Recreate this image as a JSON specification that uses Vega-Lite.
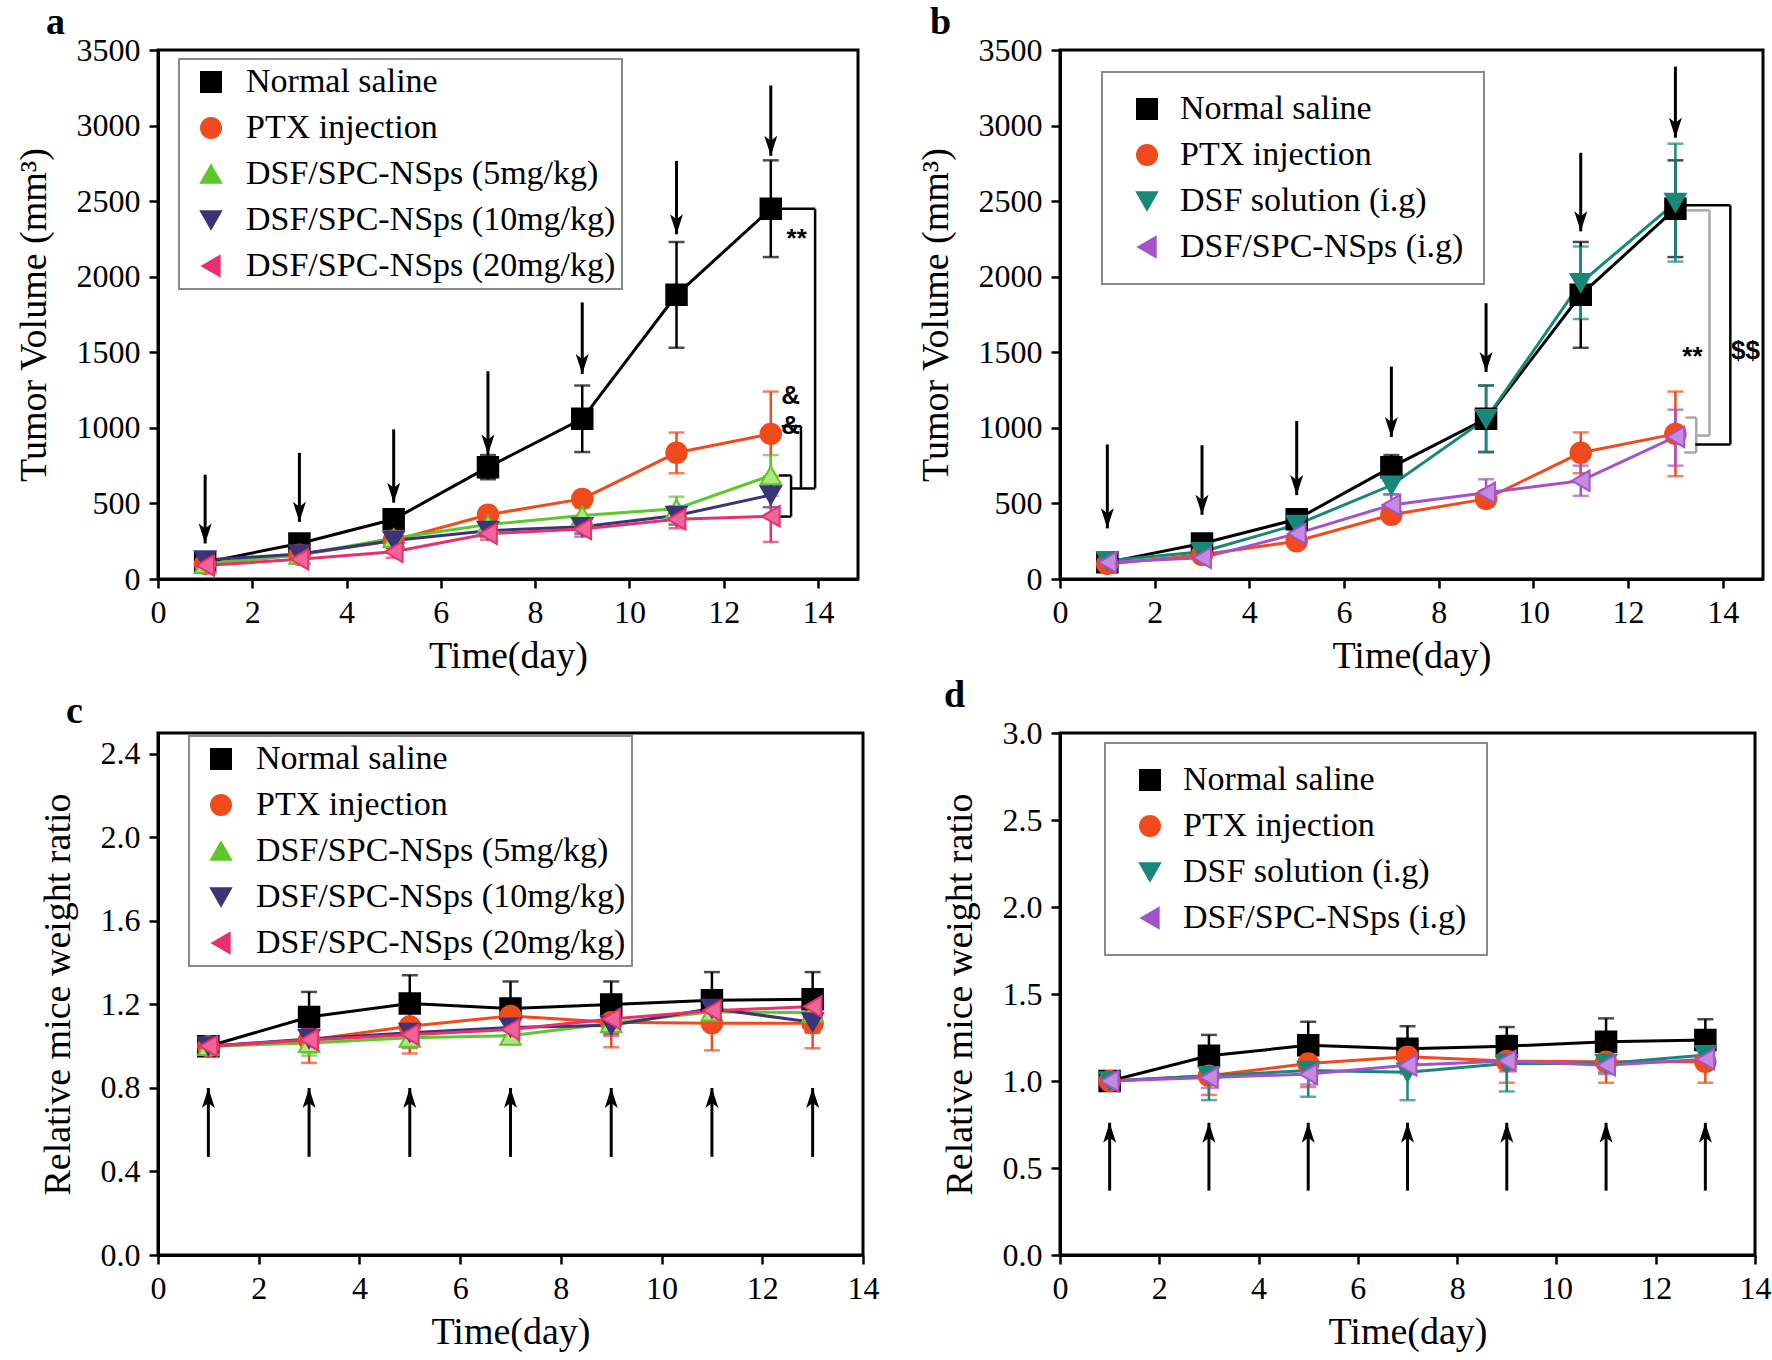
{
"$schema": "https://vega.github.io/schema/vega-lite/v6.json",
"background": "white",
"padding": {"left": 13, "top": 2, "right": 0, "bottom": 0},
"columns": 2,
"spacing": {"row": -2, "column": 34},
"resolve": {"scale": {"color": "independent", "fill": "independent", "stroke": "independent", "shape": "independent"}, "legend": {"color": "independent", "fill": "independent", "stroke": "independent", "shape": "independent"}},
"config": {
  "view": {"stroke": "black", "strokeWidth": 3},
  "font": "Liberation Serif",
  "axis": {"domainColor": "black", "domainWidth": 3, "tickColor": "black", "tickWidth": 2.5, "tickSize": 9, "labelFont": "Liberation Serif", "labelFontSize": 32, "labelColor": "black", "titleFont": "Liberation Serif", "titleFontSize": 38, "titleFontWeight": "normal", "titleColor": "black", "grid": false, "labelOverlap": false, "labelFlush": false},
  "axisX": {"labelPadding": 9, "titlePadding": 9},
  "axisY": {"labelPadding": 9, "titlePadding": 23},
  "legend": {"labelFont": "Liberation Serif", "labelFontSize": 34, "labelColor": "black", "labelLimit": 700},
  "title": {"font": "Liberation Serif", "fontSize": 38, "fontWeight": "bold", "color": "black", "anchor": "start", "frame": "bounds"}
},
"datasets": {
  "a": [
    {"s":"Normal saline","day":1,"v":110,"lo":90,"hi":130},{"s":"Normal saline","day":3,"v":235,"lo":205,"hi":265},{"s":"Normal saline","day":5,"v":395,"lo":355,"hi":435},{"s":"Normal saline","day":7,"v":740,"lo":660,"hi":820},{"s":"Normal saline","day":9,"v":1060,"lo":840,"hi":1280},{"s":"Normal saline","day":11,"v":1880,"lo":1530,"hi":2230},{"s":"Normal saline","day":13,"v":2450,"lo":2130,"hi":2770},
    {"s":"PTX injection","day":1,"v":100,"lo":85,"hi":115},{"s":"PTX injection","day":3,"v":160,"lo":135,"hi":185},{"s":"PTX injection","day":5,"v":255,"lo":225,"hi":285},{"s":"PTX injection","day":7,"v":425,"lo":385,"hi":465},{"s":"PTX injection","day":9,"v":530,"lo":480,"hi":580},{"s":"PTX injection","day":11,"v":835,"lo":700,"hi":970},{"s":"PTX injection","day":13,"v":960,"lo":680,"hi":1240},
    {"s":"DSF/SPC-NSps (5mg/kg)","day":1,"v":100,"lo":85,"hi":115},{"s":"DSF/SPC-NSps (5mg/kg)","day":3,"v":160,"lo":135,"hi":185},{"s":"DSF/SPC-NSps (5mg/kg)","day":5,"v":270,"lo":240,"hi":300},{"s":"DSF/SPC-NSps (5mg/kg)","day":7,"v":360,"lo":320,"hi":400},{"s":"DSF/SPC-NSps (5mg/kg)","day":9,"v":420,"lo":370,"hi":470},{"s":"DSF/SPC-NSps (5mg/kg)","day":11,"v":465,"lo":385,"hi":545},{"s":"DSF/SPC-NSps (5mg/kg)","day":13,"v":685,"lo":550,"hi":820},
    {"s":"DSF/SPC-NSps (10mg/kg)","day":1,"v":125,"lo":105,"hi":145},{"s":"DSF/SPC-NSps (10mg/kg)","day":3,"v":165,"lo":140,"hi":190},{"s":"DSF/SPC-NSps (10mg/kg)","day":5,"v":255,"lo":225,"hi":285},{"s":"DSF/SPC-NSps (10mg/kg)","day":7,"v":320,"lo":280,"hi":360},{"s":"DSF/SPC-NSps (10mg/kg)","day":9,"v":345,"lo":300,"hi":390},{"s":"DSF/SPC-NSps (10mg/kg)","day":11,"v":420,"lo":360,"hi":480},{"s":"DSF/SPC-NSps (10mg/kg)","day":13,"v":555,"lo":475,"hi":635},
    {"s":"DSF/SPC-NSps (20mg/kg)","day":1,"v":90,"lo":65,"hi":115},{"s":"DSF/SPC-NSps (20mg/kg)","day":3,"v":130,"lo":100,"hi":160},{"s":"DSF/SPC-NSps (20mg/kg)","day":5,"v":180,"lo":140,"hi":220},{"s":"DSF/SPC-NSps (20mg/kg)","day":7,"v":300,"lo":260,"hi":340},{"s":"DSF/SPC-NSps (20mg/kg)","day":9,"v":330,"lo":280,"hi":380},{"s":"DSF/SPC-NSps (20mg/kg)","day":11,"v":395,"lo":335,"hi":455},{"s":"DSF/SPC-NSps (20mg/kg)","day":13,"v":415,"lo":245,"hi":585}
  ],
  "b": [
    {"s":"Normal saline","day":1,"v":110,"lo":90,"hi":130},{"s":"Normal saline","day":3,"v":235,"lo":205,"hi":265},{"s":"Normal saline","day":5,"v":395,"lo":355,"hi":435},{"s":"Normal saline","day":7,"v":740,"lo":660,"hi":820},{"s":"Normal saline","day":9,"v":1060,"lo":840,"hi":1280},{"s":"Normal saline","day":11,"v":1880,"lo":1530,"hi":2230},{"s":"Normal saline","day":13,"v":2450,"lo":2130,"hi":2770},
    {"s":"PTX injection","day":1,"v":100,"lo":85,"hi":115},{"s":"PTX injection","day":3,"v":160,"lo":135,"hi":185},{"s":"PTX injection","day":5,"v":250,"lo":220,"hi":280},{"s":"PTX injection","day":7,"v":425,"lo":385,"hi":465},{"s":"PTX injection","day":9,"v":530,"lo":480,"hi":580},{"s":"PTX injection","day":11,"v":835,"lo":700,"hi":970},{"s":"PTX injection","day":13,"v":960,"lo":680,"hi":1240},
    {"s":"DSF solution (i.g)","day":1,"v":120,"lo":100,"hi":140},{"s":"DSF solution (i.g)","day":3,"v":180,"lo":150,"hi":210},{"s":"DSF solution (i.g)","day":5,"v":360,"lo":320,"hi":400},{"s":"DSF solution (i.g)","day":7,"v":620,"lo":560,"hi":680},{"s":"DSF solution (i.g)","day":9,"v":1060,"lo":840,"hi":1280},{"s":"DSF solution (i.g)","day":11,"v":1960,"lo":1720,"hi":2200},{"s":"DSF solution (i.g)","day":13,"v":2490,"lo":2100,"hi":2880},
    {"s":"DSF/SPC-NSps (i.g)","day":1,"v":110,"lo":90,"hi":130},{"s":"DSF/SPC-NSps (i.g)","day":3,"v":140,"lo":110,"hi":170},{"s":"DSF/SPC-NSps (i.g)","day":5,"v":300,"lo":260,"hi":340},{"s":"DSF/SPC-NSps (i.g)","day":7,"v":490,"lo":420,"hi":560},{"s":"DSF/SPC-NSps (i.g)","day":9,"v":570,"lo":480,"hi":660},{"s":"DSF/SPC-NSps (i.g)","day":11,"v":650,"lo":550,"hi":750},{"s":"DSF/SPC-NSps (i.g)","day":13,"v":940,"lo":750,"hi":1120}
  ],
  "c": [
    {"s":"Normal saline","day":1,"v":1.0,"lo":0.98,"hi":1.02},{"s":"Normal saline","day":3,"v":1.14,"lo":1.02,"hi":1.26},{"s":"Normal saline","day":5,"v":1.205,"lo":1.07,"hi":1.34},{"s":"Normal saline","day":7,"v":1.18,"lo":1.05,"hi":1.31},{"s":"Normal saline","day":9,"v":1.2,"lo":1.09,"hi":1.31},{"s":"Normal saline","day":11,"v":1.22,"lo":1.085,"hi":1.355},{"s":"Normal saline","day":13,"v":1.225,"lo":1.095,"hi":1.355},
    {"s":"PTX injection","day":1,"v":1.0,"lo":0.98,"hi":1.02},{"s":"PTX injection","day":3,"v":1.03,"lo":0.92,"hi":1.14},{"s":"PTX injection","day":5,"v":1.095,"lo":0.965,"hi":1.225},{"s":"PTX injection","day":7,"v":1.145,"lo":1.085,"hi":1.205},{"s":"PTX injection","day":9,"v":1.115,"lo":0.995,"hi":1.235},{"s":"PTX injection","day":11,"v":1.11,"lo":0.98,"hi":1.24},{"s":"PTX injection","day":13,"v":1.11,"lo":0.99,"hi":1.23},
    {"s":"DSF/SPC-NSps (5mg/kg)","day":1,"v":1.0,"lo":0.98,"hi":1.02},{"s":"DSF/SPC-NSps (5mg/kg)","day":3,"v":1.015,"lo":0.955,"hi":1.075},{"s":"DSF/SPC-NSps (5mg/kg)","day":5,"v":1.04,"lo":0.99,"hi":1.09},{"s":"DSF/SPC-NSps (5mg/kg)","day":7,"v":1.05,"lo":1.01,"hi":1.09},{"s":"DSF/SPC-NSps (5mg/kg)","day":9,"v":1.11,"lo":1.07,"hi":1.15},{"s":"DSF/SPC-NSps (5mg/kg)","day":11,"v":1.165,"lo":1.105,"hi":1.225},{"s":"DSF/SPC-NSps (5mg/kg)","day":13,"v":1.16,"lo":1.11,"hi":1.21},
    {"s":"DSF/SPC-NSps (10mg/kg)","day":1,"v":1.0,"lo":0.98,"hi":1.02},{"s":"DSF/SPC-NSps (10mg/kg)","day":3,"v":1.035,"lo":0.985,"hi":1.085},{"s":"DSF/SPC-NSps (10mg/kg)","day":5,"v":1.065,"lo":1.015,"hi":1.115},{"s":"DSF/SPC-NSps (10mg/kg)","day":7,"v":1.09,"lo":1.05,"hi":1.13},{"s":"DSF/SPC-NSps (10mg/kg)","day":9,"v":1.1,"lo":1.06,"hi":1.14},{"s":"DSF/SPC-NSps (10mg/kg)","day":11,"v":1.18,"lo":1.13,"hi":1.23},{"s":"DSF/SPC-NSps (10mg/kg)","day":13,"v":1.115,"lo":1.065,"hi":1.165},
    {"s":"DSF/SPC-NSps (20mg/kg)","day":1,"v":1.0,"lo":0.98,"hi":1.02},{"s":"DSF/SPC-NSps (20mg/kg)","day":3,"v":1.03,"lo":0.97,"hi":1.09},{"s":"DSF/SPC-NSps (20mg/kg)","day":5,"v":1.055,"lo":0.995,"hi":1.115},{"s":"DSF/SPC-NSps (20mg/kg)","day":7,"v":1.08,"lo":1.03,"hi":1.13},{"s":"DSF/SPC-NSps (20mg/kg)","day":9,"v":1.13,"lo":1.05,"hi":1.21},{"s":"DSF/SPC-NSps (20mg/kg)","day":11,"v":1.17,"lo":1.11,"hi":1.23},{"s":"DSF/SPC-NSps (20mg/kg)","day":13,"v":1.19,"lo":1.15,"hi":1.23}
  ],
  "d": [
    {"s":"Normal saline","day":1,"v":1.0,"lo":0.98,"hi":1.02},{"s":"Normal saline","day":3,"v":1.145,"lo":1.025,"hi":1.265},{"s":"Normal saline","day":5,"v":1.205,"lo":1.07,"hi":1.34},{"s":"Normal saline","day":7,"v":1.185,"lo":1.055,"hi":1.315},{"s":"Normal saline","day":9,"v":1.2,"lo":1.09,"hi":1.31},{"s":"Normal saline","day":11,"v":1.225,"lo":1.09,"hi":1.36},{"s":"Normal saline","day":13,"v":1.235,"lo":1.115,"hi":1.355},
    {"s":"PTX injection","day":1,"v":1.0,"lo":0.98,"hi":1.02},{"s":"PTX injection","day":3,"v":1.03,"lo":0.92,"hi":1.14},{"s":"PTX injection","day":5,"v":1.1,"lo":0.965,"hi":1.235},{"s":"PTX injection","day":7,"v":1.14,"lo":1.07,"hi":1.21},{"s":"PTX injection","day":9,"v":1.115,"lo":0.99,"hi":1.24},{"s":"PTX injection","day":11,"v":1.11,"lo":0.99,"hi":1.23},{"s":"PTX injection","day":13,"v":1.11,"lo":0.99,"hi":1.23},
    {"s":"DSF solution (i.g)","day":1,"v":1.0,"lo":0.98,"hi":1.02},{"s":"DSF solution (i.g)","day":3,"v":1.03,"lo":0.89,"hi":1.17},{"s":"DSF solution (i.g)","day":5,"v":1.06,"lo":0.91,"hi":1.21},{"s":"DSF solution (i.g)","day":7,"v":1.05,"lo":0.89,"hi":1.21},{"s":"DSF solution (i.g)","day":9,"v":1.1,"lo":0.94,"hi":1.26},{"s":"DSF solution (i.g)","day":11,"v":1.1,"lo":1.05,"hi":1.15},{"s":"DSF solution (i.g)","day":13,"v":1.15,"lo":1.08,"hi":1.22},
    {"s":"DSF/SPC-NSps (i.g)","day":1,"v":1.0,"lo":0.98,"hi":1.02},{"s":"DSF/SPC-NSps (i.g)","day":3,"v":1.02,"lo":0.96,"hi":1.08},{"s":"DSF/SPC-NSps (i.g)","day":5,"v":1.04,"lo":0.98,"hi":1.1},{"s":"DSF/SPC-NSps (i.g)","day":7,"v":1.09,"lo":1.04,"hi":1.14},{"s":"DSF/SPC-NSps (i.g)","day":9,"v":1.115,"lo":1.055,"hi":1.175},{"s":"DSF/SPC-NSps (i.g)","day":11,"v":1.09,"lo":1.04,"hi":1.14},{"s":"DSF/SPC-NSps (i.g)","day":13,"v":1.125,"lo":1.075,"hi":1.175}
  ],
  "arrA": [{"day":1,"from":690,"tip":235},{"day":3,"from":835,"tip":378},{"day":5,"from":990,"tip":505},{"day":7,"from":1375,"tip":823},{"day":9,"from":1830,"tip":1357},{"day":11,"from":2766,"tip":2281},{"day":13,"from":3265,"tip":2800}],
  "arrB": [{"day":1,"from":890,"tip":335},{"day":3,"from":885,"tip":425},{"day":5,"from":1045,"tip":555},{"day":7,"from":1405,"tip":940},{"day":9,"from":1825,"tip":1370},{"day":11,"from":2820,"tip":2300},{"day":13,"from":3390,"tip":2920}],
  "arrC": [{"day":1,"from":0.47,"tip":0.8},{"day":3,"from":0.47,"tip":0.8},{"day":5,"from":0.47,"tip":0.8},{"day":7,"from":0.47,"tip":0.8},{"day":9,"from":0.47,"tip":0.8},{"day":11,"from":0.47,"tip":0.8},{"day":13,"from":0.47,"tip":0.8}],
  "arrD": [{"day":1,"from":0.37,"tip":0.76},{"day":3,"from":0.37,"tip":0.76},{"day":5,"from":0.37,"tip":0.76},{"day":7,"from":0.37,"tip":0.76},{"day":9,"from":0.37,"tip":0.76},{"day":11,"from":0.37,"tip":0.76},{"day":13,"from":0.37,"tip":0.76}],
  "brA": [{"x1":13.15,"x2":13.94,"y1":2449,"y2":2449},{"x1":13.94,"x2":13.94,"y1":2449,"y2":599},{"x1":13.43,"x2":13.94,"y1":599,"y2":599},{"x1":13.23,"x2":13.64,"y1":1011,"y2":1011},{"x1":13.64,"x2":13.64,"y1":1011,"y2":599},{"x1":13.17,"x2":13.43,"y1":685,"y2":685},{"x1":13.43,"x2":13.43,"y1":685,"y2":413},{"x1":13.17,"x2":13.43,"y1":413,"y2":413}],
  "brB": [{"cmp":"$$","x1":13.21,"x2":14.16,"y1":2472,"y2":2472},{"cmp":"$$","x1":14.16,"x2":14.16,"y1":2472,"y2":890},{"cmp":"$$","x1":13.42,"x2":14.16,"y1":890,"y2":890},{"cmp":"**","x1":13.25,"x2":13.72,"y1":2439,"y2":2439},{"cmp":"**","x1":13.72,"x2":13.72,"y1":2439,"y2":949},{"cmp":"**","x1":13.46,"x2":13.72,"y1":949,"y2":949},{"cmp":"**","x1":13.21,"x2":13.44,"y1":1068,"y2":1068},{"cmp":"**","x1":13.44,"x2":13.44,"y1":1068,"y2":837},{"cmp":"**","x1":13.19,"x2":13.44,"y1":837,"y2":837}],
  "txtA": [{"x":13.55,"y":2290,"t":"**"},{"x":13.42,"y":1250,"t":"&"},{"x":13.42,"y":1050,"t":"&"}],
  "txtB": [{"x":13.36,"y":1510,"t":"**"},{"x":14.48,"y":1548,"t":"$$"}]
},
"concat": [
{
  "width": 700, "height": 529,
  "title": {"text": "a", "dx": 31, "offset": -8},
  "layer": [
    {"data": {"name": "arrA"}, "mark": {"type": "rule", "color": "black", "strokeWidth": 3}, "encoding": {"x": {"field": "day", "type": "quantitative"}, "y": {"field": "from", "type": "quantitative"}, "y2": {"field": "tip"}}},
    {"data": {"name": "arrA"}, "mark": {"type": "point", "shape": "M0,0L-0.65,-2L0,-1.5L0.65,-2Z", "filled": true, "color": "black", "size": 400, "opacity": 1}, "encoding": {"x": {"field": "day", "type": "quantitative"}, "y": {"field": "tip", "type": "quantitative"}}},
    {"data": {"name": "brA"}, "mark": {"type": "rule", "color": "black", "strokeWidth": 2.5}, "encoding": {"x": {"field": "x1", "type": "quantitative"}, "x2": {"field": "x2"}, "y": {"field": "y1", "type": "quantitative"}, "y2": {"field": "y2"}}},
    {"data": {"name": "txtA"}, "mark": {"type": "text", "font": "Liberation Sans", "fontWeight": "bold", "fontSize": 26, "color": "black", "dy": 6}, "encoding": {"x": {"field": "x", "type": "quantitative"}, "y": {"field": "y", "type": "quantitative"}, "text": {"field": "t"}}},
    {"data": {"name": "a"}, "mark": {"type": "errorbar", "ticks": {"size": 16, "thickness": 2.5}, "thickness": 2.5}, "encoding": {"x": {"field": "day", "type": "quantitative", "title": "Time(day)"}, "y": {"field": "lo", "type": "quantitative", "title": "Tumor Volume (mm³)"}, "y2": {"field": "hi"}, "color": {"field": "s", "type": "nominal", "scale": {"domain": ["Normal saline","PTX injection","DSF/SPC-NSps (5mg/kg)","DSF/SPC-NSps (10mg/kg)","DSF/SPC-NSps (20mg/kg)"], "range": ["#000000","#f04a1d","#5cc82a","#3c3478","#e8306e"]}, "legend": {"orient": "none", "legendX": 21, "legendY": 9, "title": null, "symbolSize": 400, "symbolStrokeWidth": 2, "symbolOffset": 9, "labelOffset": 18, "rowPadding": 12, "padding": 6, "strokeColor": "#8a8a8a", "fillColor": "white", "encode": {"legend": {"update": {"strokeWidth": {"value": 2}}}}}}}},
    {"data": {"name": "a"}, "mark": {"type": "line", "strokeWidth": 3}, "encoding": {"x": {"field": "day", "type": "quantitative"}, "y": {"field": "v", "type": "quantitative"}, "stroke": {"field": "s", "type": "nominal", "scale": {"domain": ["Normal saline","PTX injection","DSF/SPC-NSps (5mg/kg)","DSF/SPC-NSps (10mg/kg)","DSF/SPC-NSps (20mg/kg)"], "range": ["#000000","#f04a1d","#5cc82a","#3c3478","#e8306e"]}, "legend": {"orient": "none", "legendX": 21, "legendY": 9, "title": null, "symbolSize": 400, "symbolStrokeWidth": 2, "symbolOffset": 9, "labelOffset": 18, "rowPadding": 12, "padding": 6, "strokeColor": "#8a8a8a", "fillColor": "white", "encode": {"legend": {"update": {"strokeWidth": {"value": 2}}}}}}}},
    {"data": {"name": "a"}, "mark": {"type": "point", "filled": true, "size": 420, "strokeWidth": 2, "opacity": 1}, "encoding": {
      "x": {"field": "day", "type": "quantitative", "scale": {"domain": [0, 14.85], "nice": false, "zero": false}, "axis": {"title": "Time(day)", "values": [0,2,4,6,8,10,12,14]}},
      "y": {"field": "v", "type": "quantitative", "scale": {"domain": [0, 3500], "nice": false}, "axis": {"title": "Tumor Volume (mm³)", "format": "d", "values": [0,500,1000,1500,2000,2500,3000,3500]}},
      "fill": {"field": "s", "type": "nominal", "scale": {"domain": ["Normal saline","PTX injection","DSF/SPC-NSps (5mg/kg)","DSF/SPC-NSps (10mg/kg)","DSF/SPC-NSps (20mg/kg)"], "range": ["#000000","#f04a1d","#b2e580","#3c3478","#f0649c"]}, "legend": {"orient": "none", "legendX": 21, "legendY": 9, "title": null, "symbolSize": 400, "symbolStrokeWidth": 2, "symbolOffset": 9, "labelOffset": 18, "rowPadding": 12, "padding": 6, "strokeColor": "#8a8a8a", "fillColor": "white", "encode": {"legend": {"update": {"strokeWidth": {"value": 2}}}}}},
      "stroke": {"field": "s", "type": "nominal", "scale": {"domain": ["Normal saline","PTX injection","DSF/SPC-NSps (5mg/kg)","DSF/SPC-NSps (10mg/kg)","DSF/SPC-NSps (20mg/kg)"], "range": ["#000000","#f04a1d","#5cc82a","#3c3478","#e8306e"]}, "legend": {"orient": "none", "legendX": 21, "legendY": 9, "title": null, "symbolSize": 400, "symbolStrokeWidth": 2, "symbolOffset": 9, "labelOffset": 18, "rowPadding": 12, "padding": 6, "strokeColor": "#8a8a8a", "fillColor": "white", "encode": {"legend": {"update": {"strokeWidth": {"value": 2}}}}}},
      "shape": {"field": "s", "type": "nominal", "scale": {"domain": ["Normal saline","PTX injection","DSF/SPC-NSps (5mg/kg)","DSF/SPC-NSps (10mg/kg)","DSF/SPC-NSps (20mg/kg)"], "range": ["square","circle","triangle-up","triangle-down","triangle-left"]}, "legend": {"orient": "none", "legendX": 21, "legendY": 9, "title": null, "symbolSize": 400, "symbolStrokeWidth": 2, "symbolOffset": 9, "labelOffset": 18, "rowPadding": 12, "padding": 6, "strokeColor": "#8a8a8a", "fillColor": "white", "encode": {"legend": {"update": {"strokeWidth": {"value": 2}}}}}}
    }}
  ]
},
{
  "width": 703, "height": 529,
  "title": {"text": "b", "dx": 13, "offset": -8},
  "layer": [
    {"data": {"name": "arrB"}, "mark": {"type": "rule", "color": "black", "strokeWidth": 3}, "encoding": {"x": {"field": "day", "type": "quantitative"}, "y": {"field": "from", "type": "quantitative"}, "y2": {"field": "tip"}}},
    {"data": {"name": "arrB"}, "mark": {"type": "point", "shape": "M0,0L-0.65,-2L0,-1.5L0.65,-2Z", "filled": true, "color": "black", "size": 400, "opacity": 1}, "encoding": {"x": {"field": "day", "type": "quantitative"}, "y": {"field": "tip", "type": "quantitative"}}},
    {"data": {"name": "brB"}, "transform": [{"filter": "datum.cmp === '**'"}], "mark": {"type": "rule", "color": "#a8a8a8", "strokeWidth": 2.5}, "encoding": {"x": {"field": "x1", "type": "quantitative"}, "x2": {"field": "x2"}, "y": {"field": "y1", "type": "quantitative"}, "y2": {"field": "y2"}}},
    {"data": {"name": "brB"}, "transform": [{"filter": "datum.cmp === '$$'"}], "mark": {"type": "rule", "color": "black", "strokeWidth": 2.5}, "encoding": {"x": {"field": "x1", "type": "quantitative"}, "x2": {"field": "x2"}, "y": {"field": "y1", "type": "quantitative"}, "y2": {"field": "y2"}}},
    {"data": {"name": "txtB"}, "mark": {"type": "text", "font": "Liberation Sans", "fontWeight": "bold", "fontSize": 26, "color": "black", "dy": 6}, "encoding": {"x": {"field": "x", "type": "quantitative"}, "y": {"field": "y", "type": "quantitative"}, "text": {"field": "t"}}},
    {"data": {"name": "b"}, "mark": {"type": "errorbar", "ticks": {"size": 16, "thickness": 2.5}, "thickness": 2.5}, "encoding": {"x": {"field": "day", "type": "quantitative", "title": "Time(day)"}, "y": {"field": "lo", "type": "quantitative", "title": "Tumor Volume (mm³)"}, "y2": {"field": "hi"}, "color": {"field": "s", "type": "nominal", "scale": {"domain": ["Normal saline","PTX injection","DSF solution (i.g)","DSF/SPC-NSps (i.g)"], "range": ["#000000","#f04a1d","#178878","#a352cc"]}, "legend": {"orient": "none", "legendX": 42, "legendY": 22, "title": null, "symbolSize": 400, "symbolStrokeWidth": 2, "symbolOffset": 8, "labelOffset": 16, "rowPadding": 12, "padding": 20, "strokeColor": "#8a8a8a", "fillColor": "white", "encode": {"legend": {"update": {"strokeWidth": {"value": 2}}}}}}}},
    {"data": {"name": "b"}, "mark": {"type": "line", "strokeWidth": 3}, "encoding": {"x": {"field": "day", "type": "quantitative"}, "y": {"field": "v", "type": "quantitative"}, "stroke": {"field": "s", "type": "nominal", "scale": {"domain": ["Normal saline","PTX injection","DSF solution (i.g)","DSF/SPC-NSps (i.g)"], "range": ["#000000","#f04a1d","#178878","#a352cc"]}, "legend": {"orient": "none", "legendX": 42, "legendY": 22, "title": null, "symbolSize": 400, "symbolStrokeWidth": 2, "symbolOffset": 8, "labelOffset": 16, "rowPadding": 12, "padding": 20, "strokeColor": "#8a8a8a", "fillColor": "white", "encode": {"legend": {"update": {"strokeWidth": {"value": 2}}}}}}}},
    {"data": {"name": "b"}, "mark": {"type": "point", "filled": true, "size": 420, "strokeWidth": 2, "opacity": 1}, "encoding": {
      "x": {"field": "day", "type": "quantitative", "scale": {"domain": [0, 14.85], "nice": false, "zero": false}, "axis": {"title": "Time(day)", "values": [0,2,4,6,8,10,12,14]}},
      "y": {"field": "v", "type": "quantitative", "scale": {"domain": [0, 3500], "nice": false}, "axis": {"title": "Tumor Volume (mm³)", "format": "d", "values": [0,500,1000,1500,2000,2500,3000,3500]}},
      "fill": {"field": "s", "type": "nominal", "scale": {"domain": ["Normal saline","PTX injection","DSF solution (i.g)","DSF/SPC-NSps (i.g)"], "range": ["#000000","#f04a1d","#178878","#c48ae0"]}, "legend": {"orient": "none", "legendX": 42, "legendY": 22, "title": null, "symbolSize": 400, "symbolStrokeWidth": 2, "symbolOffset": 8, "labelOffset": 16, "rowPadding": 12, "padding": 20, "strokeColor": "#8a8a8a", "fillColor": "white", "encode": {"legend": {"update": {"strokeWidth": {"value": 2}}}}}},
      "stroke": {"field": "s", "type": "nominal", "scale": {"domain": ["Normal saline","PTX injection","DSF solution (i.g)","DSF/SPC-NSps (i.g)"], "range": ["#000000","#f04a1d","#178878","#a352cc"]}, "legend": {"orient": "none", "legendX": 42, "legendY": 22, "title": null, "symbolSize": 400, "symbolStrokeWidth": 2, "symbolOffset": 8, "labelOffset": 16, "rowPadding": 12, "padding": 20, "strokeColor": "#8a8a8a", "fillColor": "white", "encode": {"legend": {"update": {"strokeWidth": {"value": 2}}}}}},
      "shape": {"field": "s", "type": "nominal", "scale": {"domain": ["Normal saline","PTX injection","DSF solution (i.g)","DSF/SPC-NSps (i.g)"], "range": ["square","circle","triangle-down","triangle-left"]}, "legend": {"orient": "none", "legendX": 42, "legendY": 22, "title": null, "symbolSize": 400, "symbolStrokeWidth": 2, "symbolOffset": 8, "labelOffset": 16, "rowPadding": 12, "padding": 20, "strokeColor": "#8a8a8a", "fillColor": "white", "encode": {"legend": {"update": {"strokeWidth": {"value": 2}}}}}}
    }}
  ]
},
{
  "width": 705, "height": 522,
  "title": {"text": "c", "dx": 27, "offset": 2},
  "layer": [
    {"data": {"name": "arrC"}, "mark": {"type": "rule", "color": "black", "strokeWidth": 3}, "encoding": {"x": {"field": "day", "type": "quantitative"}, "y": {"field": "from", "type": "quantitative"}, "y2": {"field": "tip"}}},
    {"data": {"name": "arrC"}, "mark": {"type": "point", "shape": "M0,0L-0.65,2L0,1.5L0.65,2Z", "filled": true, "color": "black", "size": 400, "opacity": 1}, "encoding": {"x": {"field": "day", "type": "quantitative"}, "y": {"field": "tip", "type": "quantitative"}}},
    {"data": {"name": "c"}, "mark": {"type": "errorbar", "ticks": {"size": 16, "thickness": 2.5}, "thickness": 2.5}, "encoding": {"x": {"field": "day", "type": "quantitative", "title": "Time(day)"}, "y": {"field": "lo", "type": "quantitative", "title": "Relative mice weight ratio"}, "y2": {"field": "hi"}, "color": {"field": "s", "type": "nominal", "scale": {"domain": ["Normal saline","PTX injection","DSF/SPC-NSps (5mg/kg)","DSF/SPC-NSps (10mg/kg)","DSF/SPC-NSps (20mg/kg)"], "range": ["#000000","#f04a1d","#5cc82a","#3c3478","#e8306e"]}, "legend": {"orient": "none", "legendX": 31, "legendY": 3, "title": null, "symbolSize": 400, "symbolStrokeWidth": 2, "symbolOffset": 9, "labelOffset": 18, "rowPadding": 12, "padding": 6, "strokeColor": "#8a8a8a", "fillColor": "white", "encode": {"legend": {"update": {"strokeWidth": {"value": 2}}}}}}}},
    {"data": {"name": "c"}, "mark": {"type": "line", "strokeWidth": 3}, "encoding": {"x": {"field": "day", "type": "quantitative"}, "y": {"field": "v", "type": "quantitative"}, "stroke": {"field": "s", "type": "nominal", "scale": {"domain": ["Normal saline","PTX injection","DSF/SPC-NSps (5mg/kg)","DSF/SPC-NSps (10mg/kg)","DSF/SPC-NSps (20mg/kg)"], "range": ["#000000","#f04a1d","#5cc82a","#3c3478","#e8306e"]}, "legend": {"orient": "none", "legendX": 31, "legendY": 3, "title": null, "symbolSize": 400, "symbolStrokeWidth": 2, "symbolOffset": 9, "labelOffset": 18, "rowPadding": 12, "padding": 6, "strokeColor": "#8a8a8a", "fillColor": "white", "encode": {"legend": {"update": {"strokeWidth": {"value": 2}}}}}}}},
    {"data": {"name": "c"}, "mark": {"type": "point", "filled": true, "size": 420, "strokeWidth": 2, "opacity": 1}, "encoding": {
      "x": {"field": "day", "type": "quantitative", "scale": {"domain": [0, 14], "nice": false, "zero": false}, "axis": {"title": "Time(day)", "values": [0,2,4,6,8,10,12,14]}},
      "y": {"field": "v", "type": "quantitative", "scale": {"domain": [0, 2.5], "nice": false}, "axis": {"title": "Relative mice weight ratio", "format": ".1f", "values": [0,0.4,0.8,1.2,1.6,2.0,2.4]}},
      "fill": {"field": "s", "type": "nominal", "scale": {"domain": ["Normal saline","PTX injection","DSF/SPC-NSps (5mg/kg)","DSF/SPC-NSps (10mg/kg)","DSF/SPC-NSps (20mg/kg)"], "range": ["#000000","#f04a1d","#b2e580","#3c3478","#f0649c"]}, "legend": {"orient": "none", "legendX": 31, "legendY": 3, "title": null, "symbolSize": 400, "symbolStrokeWidth": 2, "symbolOffset": 9, "labelOffset": 18, "rowPadding": 12, "padding": 6, "strokeColor": "#8a8a8a", "fillColor": "white", "encode": {"legend": {"update": {"strokeWidth": {"value": 2}}}}}},
      "stroke": {"field": "s", "type": "nominal", "scale": {"domain": ["Normal saline","PTX injection","DSF/SPC-NSps (5mg/kg)","DSF/SPC-NSps (10mg/kg)","DSF/SPC-NSps (20mg/kg)"], "range": ["#000000","#f04a1d","#5cc82a","#3c3478","#e8306e"]}, "legend": {"orient": "none", "legendX": 31, "legendY": 3, "title": null, "symbolSize": 400, "symbolStrokeWidth": 2, "symbolOffset": 9, "labelOffset": 18, "rowPadding": 12, "padding": 6, "strokeColor": "#8a8a8a", "fillColor": "white", "encode": {"legend": {"update": {"strokeWidth": {"value": 2}}}}}},
      "shape": {"field": "s", "type": "nominal", "scale": {"domain": ["Normal saline","PTX injection","DSF/SPC-NSps (5mg/kg)","DSF/SPC-NSps (10mg/kg)","DSF/SPC-NSps (20mg/kg)"], "range": ["square","circle","triangle-up","triangle-down","triangle-left"]}, "legend": {"orient": "none", "legendX": 31, "legendY": 3, "title": null, "symbolSize": 400, "symbolStrokeWidth": 2, "symbolOffset": 9, "labelOffset": 18, "rowPadding": 12, "padding": 6, "strokeColor": "#8a8a8a", "fillColor": "white", "encode": {"legend": {"update": {"strokeWidth": {"value": 2}}}}}}
    }}
  ]
},
{
  "width": 695, "height": 522,
  "title": {"text": "d", "dx": 3, "offset": 2},
  "layer": [
    {"data": {"name": "arrD"}, "mark": {"type": "rule", "color": "black", "strokeWidth": 3}, "encoding": {"x": {"field": "day", "type": "quantitative"}, "y": {"field": "from", "type": "quantitative"}, "y2": {"field": "tip"}}},
    {"data": {"name": "arrD"}, "mark": {"type": "point", "shape": "M0,0L-0.65,2L0,1.5L0.65,2Z", "filled": true, "color": "black", "size": 400, "opacity": 1}, "encoding": {"x": {"field": "day", "type": "quantitative"}, "y": {"field": "tip", "type": "quantitative"}}},
    {"data": {"name": "d"}, "mark": {"type": "errorbar", "ticks": {"size": 16, "thickness": 2.5}, "thickness": 2.5}, "encoding": {"x": {"field": "day", "type": "quantitative", "title": "Time(day)"}, "y": {"field": "lo", "type": "quantitative", "title": "Relative mice weight ratio"}, "y2": {"field": "hi"}, "color": {"field": "s", "type": "nominal", "scale": {"domain": ["Normal saline","PTX injection","DSF solution (i.g)","DSF/SPC-NSps (i.g)"], "range": ["#000000","#f04a1d","#178878","#a352cc"]}, "legend": {"orient": "none", "legendX": 45, "legendY": 10, "title": null, "symbolSize": 400, "symbolStrokeWidth": 2, "symbolOffset": 8, "labelOffset": 16, "rowPadding": 12, "padding": 20, "strokeColor": "#8a8a8a", "fillColor": "white", "encode": {"legend": {"update": {"strokeWidth": {"value": 2}}}}}}}},
    {"data": {"name": "d"}, "mark": {"type": "line", "strokeWidth": 3}, "encoding": {"x": {"field": "day", "type": "quantitative"}, "y": {"field": "v", "type": "quantitative"}, "stroke": {"field": "s", "type": "nominal", "scale": {"domain": ["Normal saline","PTX injection","DSF solution (i.g)","DSF/SPC-NSps (i.g)"], "range": ["#000000","#f04a1d","#178878","#a352cc"]}, "legend": {"orient": "none", "legendX": 45, "legendY": 10, "title": null, "symbolSize": 400, "symbolStrokeWidth": 2, "symbolOffset": 8, "labelOffset": 16, "rowPadding": 12, "padding": 20, "strokeColor": "#8a8a8a", "fillColor": "white", "encode": {"legend": {"update": {"strokeWidth": {"value": 2}}}}}}}},
    {"data": {"name": "d"}, "mark": {"type": "point", "filled": true, "size": 420, "strokeWidth": 2, "opacity": 1}, "encoding": {
      "x": {"field": "day", "type": "quantitative", "scale": {"domain": [0, 14], "nice": false, "zero": false}, "axis": {"title": "Time(day)", "values": [0,2,4,6,8,10,12,14]}},
      "y": {"field": "v", "type": "quantitative", "scale": {"domain": [0, 3.0], "nice": false}, "axis": {"title": "Relative mice weight ratio", "format": ".1f", "values": [0,0.5,1.0,1.5,2.0,2.5,3.0]}},
      "fill": {"field": "s", "type": "nominal", "scale": {"domain": ["Normal saline","PTX injection","DSF solution (i.g)","DSF/SPC-NSps (i.g)"], "range": ["#000000","#f04a1d","#178878","#c48ae0"]}, "legend": {"orient": "none", "legendX": 45, "legendY": 10, "title": null, "symbolSize": 400, "symbolStrokeWidth": 2, "symbolOffset": 8, "labelOffset": 16, "rowPadding": 12, "padding": 20, "strokeColor": "#8a8a8a", "fillColor": "white", "encode": {"legend": {"update": {"strokeWidth": {"value": 2}}}}}},
      "stroke": {"field": "s", "type": "nominal", "scale": {"domain": ["Normal saline","PTX injection","DSF solution (i.g)","DSF/SPC-NSps (i.g)"], "range": ["#000000","#f04a1d","#178878","#a352cc"]}, "legend": {"orient": "none", "legendX": 45, "legendY": 10, "title": null, "symbolSize": 400, "symbolStrokeWidth": 2, "symbolOffset": 8, "labelOffset": 16, "rowPadding": 12, "padding": 20, "strokeColor": "#8a8a8a", "fillColor": "white", "encode": {"legend": {"update": {"strokeWidth": {"value": 2}}}}}},
      "shape": {"field": "s", "type": "nominal", "scale": {"domain": ["Normal saline","PTX injection","DSF solution (i.g)","DSF/SPC-NSps (i.g)"], "range": ["square","circle","triangle-down","triangle-left"]}, "legend": {"orient": "none", "legendX": 45, "legendY": 10, "title": null, "symbolSize": 400, "symbolStrokeWidth": 2, "symbolOffset": 8, "labelOffset": 16, "rowPadding": 12, "padding": 20, "strokeColor": "#8a8a8a", "fillColor": "white", "encode": {"legend": {"update": {"strokeWidth": {"value": 2}}}}}}
    }}
  ]
}
]
}
